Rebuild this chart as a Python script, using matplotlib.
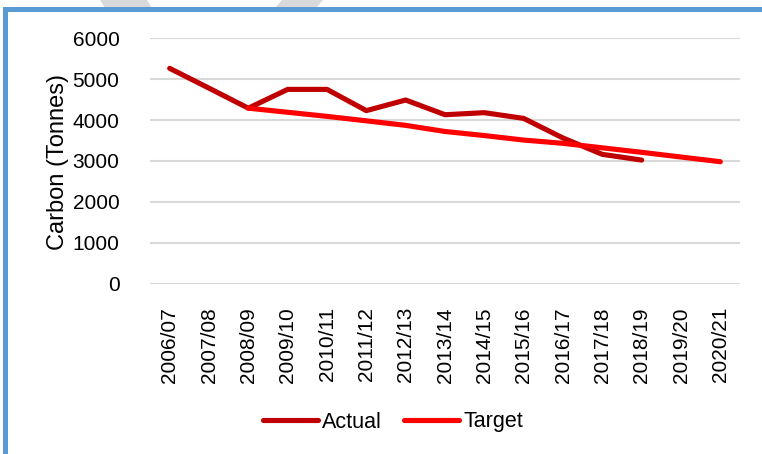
import matplotlib
matplotlib.use("Agg")
import matplotlib.pyplot as plt
from matplotlib.patches import Rectangle, Polygon
import numpy as np

categories = ["2006/07", "2007/08", "2008/09", "2009/10", "2010/11", "2011/12",
              "2012/13", "2013/14", "2014/15", "2015/16", "2016/17", "2017/18",
              "2018/19", "2019/20", "2020/21"]
actual = [5265, 4780, 4290, 4750, 4750, 4230, 4490, 4130, 4180, 4040, 3560, 3160, 3020,
          np.nan, np.nan]
target = [np.nan, np.nan, 4290, 4190, 4090, 3980, 3870, 3720, 3620, 3510, 3430, 3320,
          3210, 3095, 2980]
yticks = [0, 1000, 2000, 3000, 4000, 5000, 6000]

W, H = 762, 454
fig = plt.figure(figsize=(W / 100, H / 100), dpi=100)
fig.patch.set_facecolor("white")

def fx(px):
    return px / W

def fy(py):
    return 1 - py / H

# watermark fragments above the frame
for pts in ([(100, 0), (147, 0), (152, 8), (105, 8)],
            [(282, 0), (323, 0), (316, 8), (275, 8)]):
    fig.patches.append(Polygon([(fx(x), fy(y)) for x, y in pts], closed=True,
                               transform=fig.transFigure, facecolor="#D9D9D9",
                               edgecolor="none", zorder=0))

# blue frame (top and left edges)
blue = "#5B9BD5"
fig.patches.append(Rectangle((fx(3), fy(12)), 1 - fx(3), fy(7) - fy(12),
                             transform=fig.transFigure, facecolor=blue,
                             edgecolor="none", zorder=1))
fig.patches.append(Rectangle((fx(3), 0), fx(8) - fx(3), fy(7),
                             transform=fig.transFigure, facecolor=blue,
                             edgecolor="none", zorder=1))

ax = fig.add_axes([fx(150), fy(283.5), fx(740) - fx(150), fy(38.3) - fy(283.5)])
ax.set_facecolor("none")
x = np.arange(len(categories))

ax.plot(x, actual, color="#C00000", lw=3.7, solid_capstyle="round",
        solid_joinstyle="round", label="Actual", zorder=3)
ax.plot(x, target, color="#FF0000", lw=3.7, solid_capstyle="round",
        solid_joinstyle="round", label="Target", zorder=4)

ax.set_xlim(-0.5, len(categories) - 0.5)
ax.set_ylim(0, 6000)
ax.set_yticks(yticks)
ax.set_yticklabels([str(v) for v in yticks])
ax.set_xticks(x)
ax.set_xticklabels(categories, rotation=90)
for s in ax.spines.values():
    s.set_visible(False)
ax.grid(axis="y", color="#D9D9D9", lw=1.5, zorder=1)
ax.set_axisbelow(True)
ax.tick_params(axis="both", length=0, labelsize=15, labelcolor="black",
               labelfontfamily="Liberation Sans")
ax.tick_params(axis="y", pad=22)
ax.tick_params(axis="x", pad=17)

fig.text(fx(58), fy(162), "Carbon (Tonnes)", rotation=90, ha="center", va="center",
         fontsize=17, family="Liberation Sans")

leg = fig.legend(loc="center", bbox_to_anchor=(fx(393), fy(422)), ncol=2, frameon=False,
                 prop={"family": "Liberation Sans", "size": 15.5},
                 handlelength=2.55, handletextpad=0.2, columnspacing=1.0)

fig.savefig("out.png", dpi=100)
